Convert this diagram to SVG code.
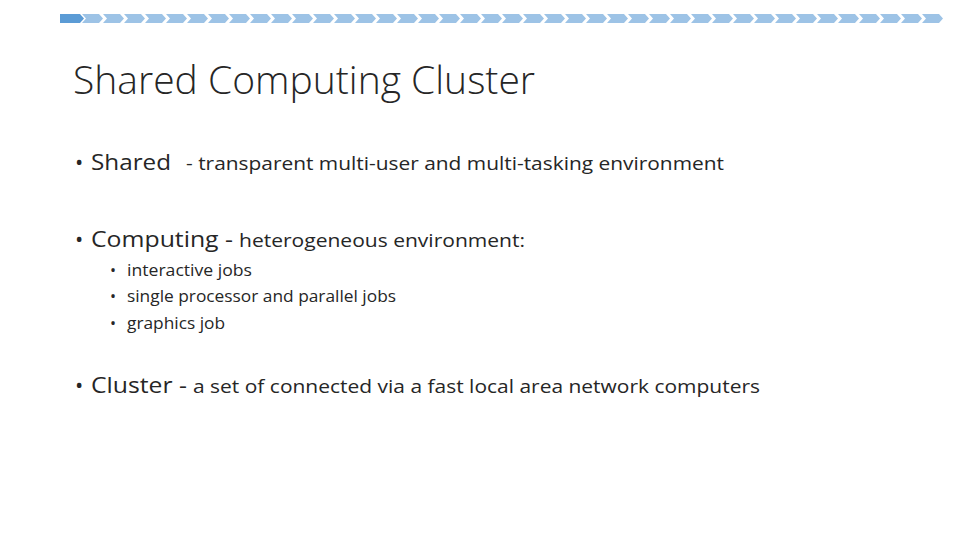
<svg xmlns="http://www.w3.org/2000/svg" width="960" height="540" viewBox="0 0 960 540">
<defs>
<pattern id="chev" x="82" y="0" width="21" height="540" patternUnits="userSpaceOnUse">
<polygon points="0,14 17,14 21,18.5 17,23 0,23 4,18.5" fill="#9dc3e6"/>
</pattern>
<style>
text{font-family:"Open Sans","Noto Sans",sans-serif;fill:#262626}
.t{font-size:38px;font-weight:300}
.l1{font-size:22px}
.l1s{font-size:18px}
.l2{font-size:16px}
</style>
</defs>
<rect width="960" height="540" fill="#fff"/>
<g id="bar">
<rect x="82" y="14" width="861" height="9" fill="url(#chev)"/>
<polygon points="60,14 80,14 84,18.5 80,23 60,23" fill="#5b9bd5"/>
</g>
<text class="t" x="73" y="94" textLength="462" lengthAdjust="spacingAndGlyphs">Shared Computing Cluster</text>
<text x="75" y="170" class="l1">•</text>
<text x="91" y="170" class="l1" textLength="80" lengthAdjust="spacingAndGlyphs">Shared</text>
<text x="186" y="170" class="l1s" textLength="538" lengthAdjust="spacingAndGlyphs">- transparent multi-user and multi-tasking environment</text>
<text x="75" y="247" class="l1">•</text>
<text x="91" y="247" class="l1" textLength="142" lengthAdjust="spacingAndGlyphs">Computing -</text>
<text x="239" y="247" class="l1s" textLength="286" lengthAdjust="spacingAndGlyphs">heterogeneous environment:</text>
<text x="110" y="276" class="l2">•</text>
<text x="127" y="276" class="l2" textLength="125" lengthAdjust="spacingAndGlyphs">interactive jobs</text>
<text x="110" y="302" class="l2">•</text>
<text x="127" y="302" class="l2" textLength="269" lengthAdjust="spacingAndGlyphs">single processor and parallel jobs</text>
<text x="110" y="329" class="l2">•</text>
<text x="127" y="329" class="l2" textLength="98" lengthAdjust="spacingAndGlyphs">graphics job</text>
<text x="75" y="393" class="l1">•</text>
<text x="91" y="393" class="l1" textLength="96" lengthAdjust="spacingAndGlyphs">Cluster -</text>
<text x="193" y="393" class="l1s" textLength="567" lengthAdjust="spacingAndGlyphs">a set of connected via a fast local area network computers</text>
</svg>
